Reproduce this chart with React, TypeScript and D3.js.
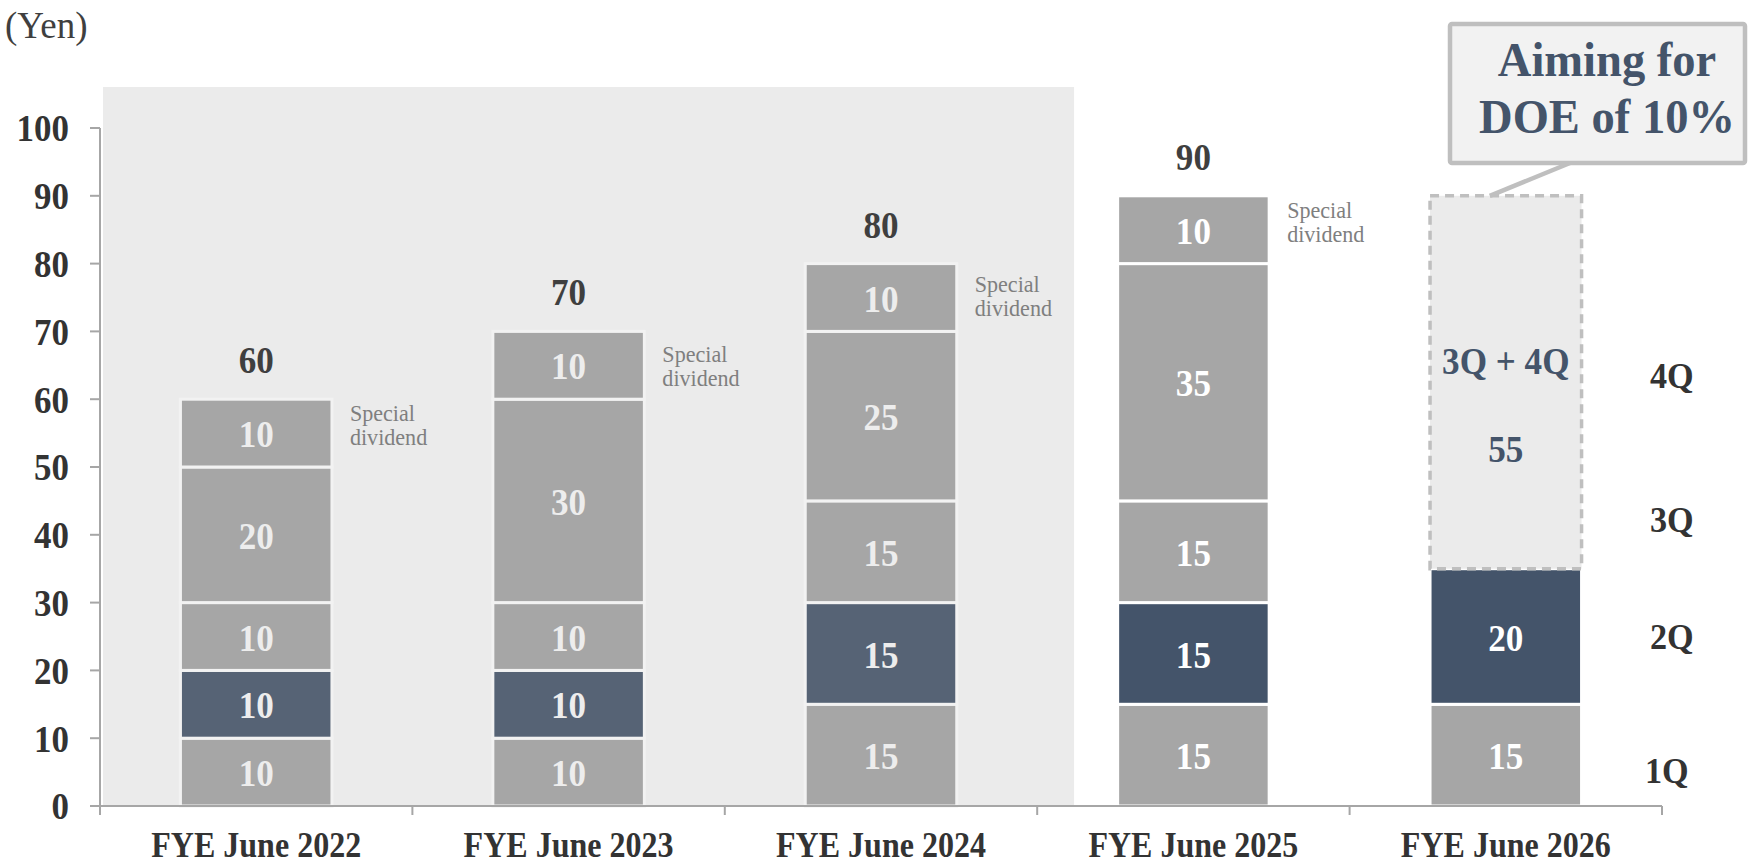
import React from "react";
import * as d3 from "d3";

// ---- data ----
const categories = ["FYE June 2022", "FYE June 2023", "FYE June 2024", "FYE June 2025", "FYE June 2026"];
const q1 = [10, 10, 15, 15, 15];
const q2 = [10, 10, 15, 15, 20];
const q3 = [10, 10, 15, 15, 0];
const q4 = [20, 30, 25, 35, 0];
const special = [10, 10, 10, 10, 0];
const totals = [60, 70, 80, 90, null];
const forecastH2 = [0, 0, 0, 0, 55];
const yTicks = [0, 10, 20, 30, 40, 50, 60, 70, 80, 90, 100];
const quarterLabels = ["1Q", "2Q", "3Q", "4Q"];
const specialLabel = ["Special", "dividend"];
const calloutLines = ["Aiming for", "DOE of 10%"];
const pastYears = 3; // shaded (actual) years

const W = 1749;
const H = 866;
const FONT = "'Liberation Serif', 'Times New Roman', Times, serif";

const x = d3.scaleBand<string>().domain(categories).range([100, 1662]).padding(0);
const y = d3.scaleLinear().domain([0, 100]).range([806, 128]);
const step = x.step();
const bw = step * 0.485;

const keys = ["q1", "q2", "q3", "q4", "sp"];
const table = categories.map((c, i) => ({
  cat: c,
  q1: q1[i],
  q2: q2[i],
  q3: q3[i],
  q4: q4[i],
  sp: special[i],
}));
const stack = d3.stack<any>().keys(keys)(table);

// layout-only constants
const quarterLabelY = [5.3, 25, 42.2, 63.5];
const specialShift = [-6, 3, 0, -6];

function T({ x: tx, y: ty, sx = 0.9, children, ...rest }: any) {
  return (
    <text transform={`translate(${tx},${ty}) scale(${sx},1)`} fontFamily={FONT} {...rest}>
      {children}
    </text>
  );
}

export default function App() {
  const cx = (c: string) => (x(c) as number) + step / 2;
  const shadeRight = (x(categories[pastYears]) as number) + step * 0.118;
  const last = categories[categories.length - 1];
  const lastIdx = categories.length - 1;
  const fBase = q1[lastIdx] + q2[lastIdx];
  const fTop = fBase + forecastH2[lastIdx];
  const fMid = (y(fBase) + y(fTop)) / 2;

  return (
    <svg width={W} height={H} style={{ position: "absolute", left: 0, top: 0, background: "#fff" }}>
      {/* shaded background for actual years */}
      <rect x={103} y={87} width={shadeRight - 103} height={y(0) - 87} fill="#EBEBEB" />

      {/* (Yen) */}
      <T x={5} y={38} sx={1} fontSize={37} fill="#3F3F3F">(Yen)</T>

      {/* y axis */}
      <line x1={100} x2={100} y1={y(100)} y2={y(0)} stroke="#A6A6A6" strokeWidth={2} />
      {yTicks.map((t) => (
        <g key={t}>
          <line x1={90} x2={100} y1={y(t)} y2={y(t)} stroke="#A6A6A6" strokeWidth={2} />
          <T x={69} y={y(t)} sx={0.92} dy="0.35em" textAnchor="end" fontSize={38} fontWeight="bold" fill="#333333">
            {t}
          </T>
        </g>
      ))}

      {/* bars */}
      {stack.map((s, si) =>
        s.map((d, i) => {
          const h = y(d[0]) - y(d[1]);
          if (h <= 0) return null;
          const past = i < pastYears;
          const isDark = keys[si] === "q2";
          const fill = isDark ? (past ? "#566375" : "#44546A") : "#A6A6A6";
          const c = categories[i];
          return (
            <g key={`${si}-${i}`}>
              <rect
                x={cx(c) - bw / 2}
                y={y(d[1])}
                width={bw}
                height={h}
                fill={fill}
                stroke={past ? "#F2F2F2" : "#FFFFFF"}
                strokeWidth={3}
              />
              <T
                x={cx(c)}
                y={(y(d[0]) + y(d[1])) / 2}
                sx={0.95}
                dy="0.38em"
                textAnchor="middle"
                fontSize={37}
                fontWeight="bold"
                fill={past ? "#EDEDED" : "#FFFFFF"}
              >
                {d[1] - d[0]}
              </T>
            </g>
          );
        })
      )}

      {/* special dividend labels */}
      {special.map((v, i) => {
        if (!v) return null;
        const c = categories[i];
        const top = stack[4][i];
        const mid = (y(top[0]) + y(top[1])) / 2 + specialShift[i];
        return (
          <g key={`sp-${i}`}>
            <T x={cx(c) + bw / 2 + 18} y={mid - 6} sx={0.96} fontSize={23} fill="#7F7F7F">
              {specialLabel[0]}
            </T>
            <T x={cx(c) + bw / 2 + 18} y={mid + 18} sx={0.96} fontSize={23} fill="#7F7F7F">
              {specialLabel[1]}
            </T>
          </g>
        );
      })}

      {/* totals */}
      {totals.map((t, i) =>
        t == null ? null : (
          <T
            key={`tot-${i}`}
            x={cx(categories[i])}
            y={y(t) - 26}
            sx={0.95}
            textAnchor="middle"
            fontSize={37}
            fontWeight="bold"
            fill="#3F3F3F"
          >
            {t}
          </T>
        )
      )}

      {/* forecast 3Q + 4Q dashed box */}
      <rect
        x={cx(last) - bw / 2}
        y={y(fTop)}
        width={bw}
        height={y(fBase) - y(fTop)}
        fill="#EBEBEB"
        stroke="#BFBFBF"
        strokeWidth={3.5}
        strokeDasharray="9,6"
      />
      <T x={cx(last)} y={fMid - 8} sx={0.95} textAnchor="middle" fontSize={37} fontWeight="bold" fill="#44546A">
        3Q + 4Q
      </T>
      <T x={cx(last)} y={fMid + 80} sx={0.95} textAnchor="middle" fontSize={37} fontWeight="bold" fill="#44546A">
        {forecastH2[lastIdx]}
      </T>

      {/* x axis */}
      <line x1={100} x2={1662} y1={y(0)} y2={y(0)} stroke="#A6A6A6" strokeWidth={2} />
      {d3.range(categories.length + 1).map((k) => (
        <line
          key={`xt-${k}`}
          x1={100 + k * step}
          x2={100 + k * step}
          y1={y(0)}
          y2={y(0) + 9}
          stroke="#A6A6A6"
          strokeWidth={2}
        />
      ))}
      {categories.map((c) => (
        <T key={c} x={cx(c)} y={857} sx={0.89} textAnchor="middle" fontSize={36} fontWeight="bold" fill="#333333">
          {c}
        </T>
      ))}

      {/* quarter labels */}
      {quarterLabels.map((q, i) => (
        <T
          key={q}
          x={i === 0 ? 1645 : 1650}
          y={y(quarterLabelY[i])}
          sx={0.95}
          dy="0.35em"
          fontSize={36}
          fontWeight="bold"
          fill="#333333"
        >
          {q}
        </T>
      ))}

      {/* callout */}
      <line x1={1570} y1={163} x2={cx(last) - 16} y2={y(fTop)} stroke="#BFBFBF" strokeWidth={4.5} />
      <rect x={1450} y={24} width={295} height={139} rx={2} fill="#F2F2F2" stroke="#BFBFBF" strokeWidth={4.5} />
      <T x={1607} y={76} sx={0.95} textAnchor="middle" fontSize={49} fontWeight="bold" fill="#44546A">
        {calloutLines[0]}
      </T>
      <T x={1607} y={133} sx={0.95} textAnchor="middle" fontSize={49} fontWeight="bold" fill="#44546A">
        {calloutLines[1]}
      </T>
    </svg>
  );
}
